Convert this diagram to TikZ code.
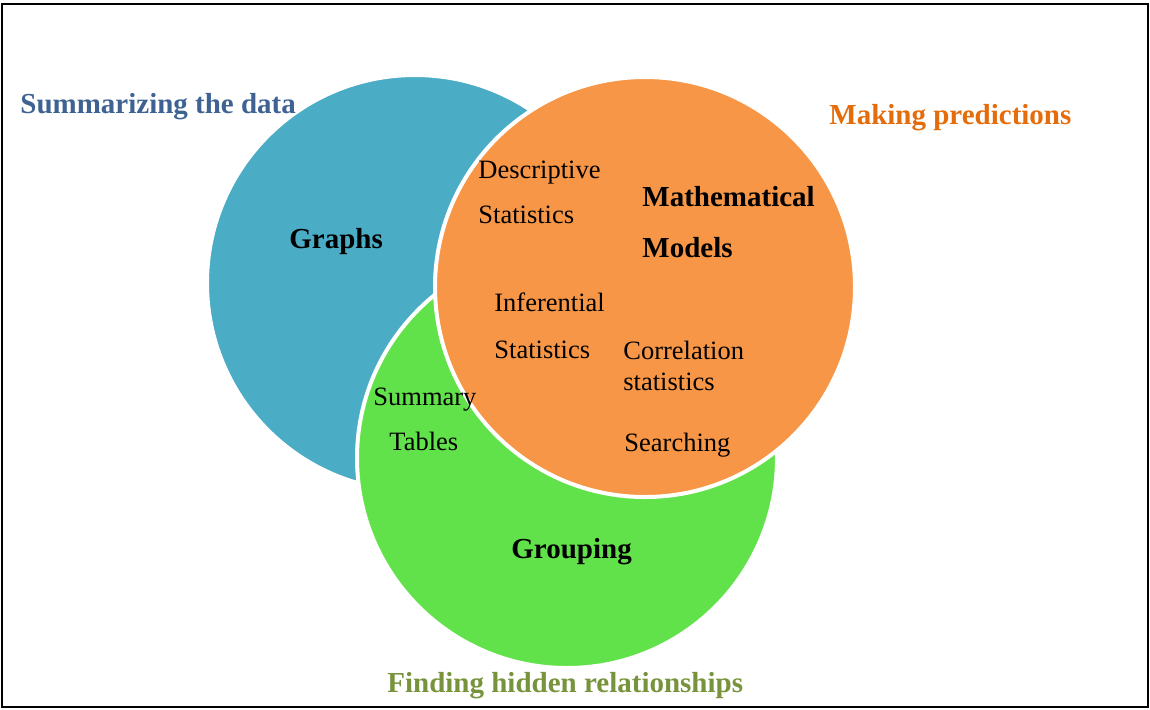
\documentclass[tikz,border=0pt]{standalone}
\usepackage{fontspec}
\setmainfont{Liberation Serif}
\usepackage{xcolor}
\usepackage{tikz}
\usetikzlibrary{positioning, calc}

\definecolor{vennblue}{HTML}{4BACC6}
\definecolor{vennorange}{HTML}{F79646}
\definecolor{venngreen}{HTML}{62E24A}
\definecolor{titleblue}{HTML}{3E6393}
\definecolor{titleorange}{HTML}{E46C0A}
\definecolor{titleolive}{HTML}{77933C}

\begin{document}
\begin{tikzpicture}[
        x=0.5pt, y=-0.5pt,
        disc/.style={draw=white, line width=2pt},
        item/.style={anchor=base west, inner sep=0pt, font=\fontsize{13.25}{16}\selectfont},
        keyword/.style={anchor=base west, inner sep=0pt, font=\fontsize{14.5}{17}\selectfont\bfseries},
        heading/.style={anchor=base west, inner sep=0pt, font=\fontsize{14.5}{17}\selectfont\bfseries}
    ]
    \useasboundingbox (0,0) rectangle (1150,709);
    \draw[line width=1pt] (2,4) rectangle (1148,707);

    % 1. Ba vong tron (xanh duoi, xanh la giua, cam tren cung)
    \coordinate (cblue) at (415,283);
    \coordinate (cgreen) at (567,458);
    \coordinate (corange) at (645,287);
    \filldraw[disc, fill=vennblue] (cblue) circle[radius=208];
    \filldraw[disc, fill=venngreen] (cgreen) circle[radius=210];
    \filldraw[disc, fill=vennorange] (corange) circle[radius=210];

    % 2. Tieu de ben ngoai
    \node[heading, text=titleblue] (summ) at (20,113) {Summarizing the data};
    \node[heading, text=titleorange] (pred) at (829,124) {Making predictions};
    \node[heading, text=titleolive] (hidden) at (387,692) {Finding hidden relationships};

    % 3. Noi dung ben trong cac vong tron
    \node[keyword] (graphs) at (289,248) {Graphs};
    \node[keyword] (math) at (642,206) {Mathematical};
    \node[keyword] (models) at (642,257) {Models};
    \node[keyword] (grouping) at (511,558) {Grouping};

    \node[item] (desc) at (478,178) {Descriptive};
    \node[item] (descstat) at (478,223) {Statistics};
    \node[item] (infer) at (494,311) {Inferential};
    \node[item] (inferstat) at (494,358) {Statistics};
    \node[item] (corr) at (623,359) {Correlation};
    \node[item] (corrstat) at (623,390) {statistics};
    \node[item] (search) at (624,451) {Searching};
    \node[item] (summary) at (373,405) {Summary};
    \node[item] (tables) at (389,450) {Tables};

\end{tikzpicture}
\end{document}
